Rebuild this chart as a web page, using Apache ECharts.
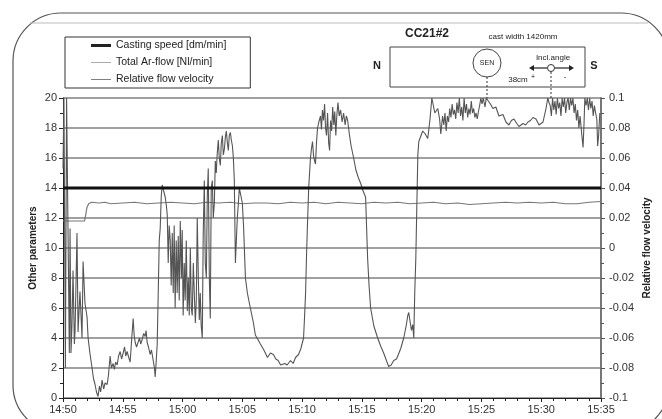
<!DOCTYPE html>
<html>
<head>
<meta charset="utf-8">
<script src="https://cdn.jsdelivr.net/npm/echarts@6/dist/echarts.min.js"></script>
<style>
  html, body { margin: 0; padding: 0; background: #fff; }
  #chart { width: 662px; height: 419px; }
</style>
</head>
<body>
<div id="chart"></div>
<script>
// minutes after 14:50
var timeLabels = ['14:50', '14:55', '15:00', '15:05', '15:10', '15:15', '15:20', '15:25', '15:30', '15:35'];

var castingSpeed = [[0, 14], [45, 14]];

var arFlow = [
    [0, 11.8], [1.8, 11.8], [1.9, 12.2], [2.0, 12.7], [2.15, 12.95], [2.4, 13.05], [3, 13.0], [3.5, 13.05],
    [4, 12.95], [5, 13.0], [6, 13.05], [7, 12.95], [8, 13.0], [9, 13.05], [10, 13.0], [11, 12.95],
    [12, 13.05], [13, 13.0], [14, 13.05], [15, 12.95], [16, 13.0], [17, 13.0], [18, 12.95], [19, 13.05],
    [20, 13.0], [21, 13.05], [22, 12.95], [23, 13.05], [24, 13.0], [25, 12.95], [26, 13.05], [27, 13.0],
    [28, 13.05], [29, 12.95], [30, 13.0], [31, 13.05], [32, 12.95], [33, 13.0], [34, 12.9], [35, 12.95],
    [36, 13.0], [37, 13.05], [38, 13.0], [39, 13.05], [40, 13.0], [41, 13.05], [42, 12.95], [43, 12.95],
    [44, 13.05], [45, 13.1]
];

var relFlow = [
    [0.0, 0.053], [0.08, 0.1], [0.15, 0.1], [0.2, -0.08], [0.3, 0.1], [0.45, 0.1], [0.53, -0.07], [0.59, 0.013],
    [0.67, -0.07], [0.75, -0.051], [0.84, -0.015], [0.95, -0.064], [1.01, -0.055], [1.17, 0.01], [1.26, -0.056],
    [1.42, -0.029], [1.59, -0.06], [1.68, -0.009], [1.84, -0.037], [2.01, -0.046], [2.10, -0.06], [2.25, -0.07],
    [2.43, -0.08], [2.55, -0.087], [2.68, -0.091], [2.80, -0.096], [2.93, -0.099], [3.05, -0.092], [3.15, -0.096],
    [3.27, -0.088], [3.40, -0.094], [3.52, -0.09], [3.69, -0.091], [3.80, -0.085], [3.94, -0.072], [4.05, -0.08],
    [4.19, -0.077], [4.30, -0.081], [4.40, -0.076], [4.53, -0.078], [4.65, -0.072], [4.78, -0.069], [4.90, -0.074],
    [5.03, -0.07], [5.15, -0.066], [5.25, -0.072], [5.36, -0.069], [5.50, -0.073], [5.62, -0.076], [5.75, -0.06],
    [5.87, -0.047], [5.95, -0.058], [6.04, -0.063], [6.15, -0.066], [6.29, -0.067], [6.40, -0.06], [6.50, -0.064],
    [6.62, -0.061], [6.75, -0.057], [6.87, -0.059], [6.95, -0.055], [7.04, -0.063], [7.15, -0.066], [7.29, -0.071],
    [7.40, -0.068], [7.54, -0.069], [7.65, -0.08], [7.71, -0.086], [7.80, -0.075], [7.88, -0.064], [7.96, -0.032],
    [8.05, 0.005], [8.13, 0.013], [8.22, 0.035], [8.30, 0.042], [8.42, 0.038], [8.55, 0.034], [8.65, 0.028],
    [8.72, 0.022], [8.80, -0.01], [8.88, 0.015], [8.97, 0.005], [9.05, -0.025], [9.14, 0.01], [9.22, -0.03],
    [9.30, 0.015], [9.38, -0.04], [9.47, 0.005], [9.55, -0.03], [9.64, 0.008], [9.72, -0.035], [9.81, 0.018],
    [9.90, -0.02], [9.97, 0.012], [10.05, -0.045], [10.14, -0.01], [10.22, -0.035], [10.31, 0.005], [10.40, -0.042],
    [10.48, -0.02], [10.56, -0.045], [10.65, 0.0], [10.73, -0.04], [10.81, -0.045], [10.90, -0.01], [10.98, -0.03],
    [11.07, -0.05], [11.15, -0.035], [11.23, 0.02], [11.32, -0.02], [11.40, -0.048], [11.48, -0.03], [11.56, -0.052],
    [11.65, -0.06], [11.73, 0.01], [11.82, 0.045], [11.90, -0.01], [11.99, -0.02], [12.07, 0.035], [12.15, 0.053],
    [12.24, -0.02], [12.32, -0.047], [12.40, 0.04], [12.49, 0.045], [12.57, 0.02], [12.66, 0.03], [12.74, 0.058],
    [12.82, 0.05], [12.90, 0.063], [12.99, 0.072], [13.07, 0.06], [13.16, 0.055], [13.24, 0.07], [13.33, 0.075],
    [13.41, 0.062], [13.50, 0.066], [13.58, 0.074], [13.66, 0.078], [13.75, 0.07], [13.83, 0.065], [13.91, 0.075],
    [14.00, 0.077], [14.08, 0.072], [14.17, 0.068], [14.25, 0.06], [14.33, 0.045], [14.42, -0.01], [14.50, -0.01],
    [14.58, 0.02], [14.67, 0.03], [14.75, 0.04], [14.84, 0.04], [15.0, 0.03], [15.1, 0.015], [15.26, -0.02],
    [15.42, -0.03], [15.67, -0.04], [15.93, -0.05], [16.09, -0.058], [16.51, -0.064], [16.8, -0.068], [17.10, -0.073],
    [17.35, -0.07], [17.60, -0.071], [17.8, -0.074], [18.0, -0.075], [18.2, -0.078], [18.36, -0.079], [18.55, -0.077],
    [18.75, -0.078], [19.03, -0.075], [19.25, -0.077], [19.45, -0.073], [19.70, -0.071], [19.9, -0.067], [20.12, -0.06],
    [20.21, -0.045], [20.29, -0.03], [20.37, -0.005], [20.45, 0.016], [20.55, 0.04], [20.70, 0.06], [20.78, 0.066],
    [20.87, 0.071], [20.95, 0.062], [21.04, 0.058], [21.12, 0.056], [21.2, 0.07], [21.29, 0.08], [21.4, 0.084],
    [21.54, 0.088], [21.62, 0.079], [21.7, 0.092], [21.79, 0.085], [21.88, 0.096], [21.96, 0.08], [22.04, 0.075],
    [22.13, 0.09], [22.22, 0.07], [22.3, 0.065], [22.38, 0.085], [22.47, 0.078], [22.56, 0.094], [22.65, 0.082],
    [22.73, 0.091], [22.82, 0.075], [22.9, 0.088], [23.0, 0.097], [23.1, 0.088], [23.22, 0.092], [23.35, 0.084],
    [23.47, 0.09], [23.6, 0.082], [23.7, 0.088], [23.81, 0.085], [23.95, 0.076], [24.1, 0.068], [24.31, 0.06],
    [24.5, 0.052], [24.7, 0.047], [24.9, 0.043], [25.1, 0.038], [25.31, 0.034], [25.4, 0.012], [25.48, -0.007],
    [25.6, -0.025], [25.73, -0.04], [26.0, -0.052], [26.32, -0.06], [26.6, -0.066], [26.82, -0.07], [27.05, -0.075],
    [27.24, -0.079], [27.45, -0.078], [27.66, -0.075], [27.9, -0.074], [28.1, -0.07], [28.25, -0.067], [28.5, -0.06],
    [28.7, -0.052], [28.84, -0.045], [28.92, -0.043], [29.05, -0.05], [29.15, -0.055], [29.25, -0.051], [29.34, -0.06],
    [29.42, -0.03], [29.51, -0.007], [29.6, 0.03], [29.68, 0.062], [29.76, 0.071], [29.9, 0.074], [30.09, 0.078],
    [30.3, 0.076], [30.51, 0.073], [30.7, 0.086], [30.85, 0.1], [30.93, 0.099], [31.1, 0.09], [31.35, 0.093],
    [31.5, 0.086], [31.6, 0.076], [31.75, 0.088], [31.85, 0.082], [31.95, 0.09], [32.05, 0.078], [32.15, 0.088],
    [32.25, 0.084], [32.35, 0.093], [32.45, 0.087], [32.55, 0.096], [32.65, 0.089], [32.75, 0.092], [32.85, 0.086],
    [32.95, 0.097], [33.05, 0.09], [33.15, 0.1], [33.25, 0.088], [33.35, 0.094], [33.45, 0.085], [33.55, 0.1],
    [33.65, 0.09], [33.75, 0.096], [33.85, 0.087], [33.95, 0.093], [34.05, 0.089], [34.15, 0.098], [34.25, 0.09],
    [34.35, 0.093], [34.45, 0.087], [34.55, 0.09], [34.65, 0.086], [34.75, 0.091], [34.85, 0.095], [34.95, 0.1],
    [35.05, 0.096], [35.15, 0.1], [35.3, 0.094], [35.4, 0.1], [35.54, 0.1], [35.75, 0.096], [35.96, 0.093],
    [36.21, 0.094], [36.46, 0.088], [36.8, 0.089], [37.05, 0.084], [37.30, 0.082], [37.5, 0.085], [37.72, 0.086],
    [37.95, 0.083], [38.14, 0.081], [38.48, 0.083], [38.7, 0.082], [38.89, 0.084], [39.1, 0.085], [39.31, 0.087],
    [39.56, 0.086], [39.82, 0.082], [40.15, 0.084], [40.40, 0.093], [40.55, 0.1], [40.65, 0.097], [40.75, 0.095],
    [40.85, 0.088], [40.95, 0.1], [41.05, 0.092], [41.15, 0.098], [41.25, 0.089], [41.35, 0.1], [41.45, 0.093],
    [41.55, 0.097], [41.65, 0.088], [41.75, 0.1], [41.85, 0.094], [41.95, 0.1], [42.05, 0.09], [42.15, 0.097],
    [42.25, 0.1], [42.35, 0.092], [42.45, 0.1], [42.55, 0.095], [42.65, 0.1], [42.75, 0.09], [42.85, 0.096],
    [42.95, 0.085], [43.05, 0.092], [43.15, 0.08], [43.25, 0.088], [43.4, 0.075], [43.5, 0.067], [43.58, 0.083],
    [43.65, 0.1], [43.75, 0.095], [43.85, 0.1], [43.95, 0.092], [44.05, 0.1], [44.15, 0.093], [44.25, 0.098],
    [44.35, 0.088], [44.45, 0.095], [44.55, 0.09], [44.65, 0.086], [44.72, 0.068], [44.8, 0.075], [44.9, 0.09]
];

var FONT = '"Liberation Sans", Arial, sans-serif';

// legend line samples: tiny corner dots keep the box 10px high so the bar keeps its thickness
var thickIcon = 'path://M0,0h0.01v0.01h-0.01z M0,3.5h20v3h-20z M0,9.99h0.01v0.01h-0.01z';
var thinIcon = 'path://M0,0h0.01v0.01h-0.01z M0,4.4h20v1.2h-20z M0,9.99h0.01v0.01h-0.01z';

var flowChart = function () {
    var myChart = echarts.init(document.getElementById('chart'));

    // small schematic of the mould (top right) and the rounded frame
    var txt = function (x, y, text, size, bold, align) {
        return {
            type: 'text', x: x, y: y, z: 10,
            style: {
                text: text, fill: '#222', font: (bold ? 'bold ' : '') + size + 'px ' + FONT,
                align: align || 'center', verticalAlign: 'middle'
            }
        };
    };
    var arrowHead = function (x, y, dir) {
        return {
            type: 'polygon', z: 10,
            shape: { points: [[x, y], [x - dir * 5, y - 3], [x - dir * 5, y + 3]] },
            style: { fill: '#222' }
        };
    };
    var graphics = [
        { type: 'rect', shape: { x: 13, y: 13, width: 656, height: 420, r: 48 }, style: { fill: 'none', stroke: '#555', lineWidth: 1.2 } },
        { type: 'line', shape: { x1: 30, y1: 23, x2: 648, y2: 23 }, style: { stroke: '#bbb', lineWidth: 1 } },
        txt(427, 34, 'CC21#2', 12, true),
        txt(523, 37, 'cast width 1420mm', 8, false),
        { type: 'rect', z: 10, shape: { x: 390, y: 47, width: 195, height: 40 }, style: { fill: '#fff', stroke: '#444', lineWidth: 1 } },
        txt(377, 66, 'N', 11, true),
        txt(594, 66, 'S', 11, true),
        { type: 'circle', z: 10, shape: { cx: 487, cy: 63, r: 14 }, style: { fill: 'none', stroke: '#444', lineWidth: 1 } },
        txt(487, 63, 'SEN', 7, false),
        { type: 'line', z: 10, shape: { x1: 487, y1: 77, x2: 487, y2: 98 }, style: { stroke: '#333', lineWidth: 1, lineDash: [2, 2] } },
        txt(518, 80, '38cm', 8, false),
        txt(553, 58, 'Incl.angle', 8, false),
        { type: 'circle', z: 10, shape: { cx: 551, cy: 68, r: 3.5 }, style: { fill: '#fff', stroke: '#333', lineWidth: 1 } },
        { type: 'line', z: 10, shape: { x1: 547, y1: 68, x2: 533, y2: 68 }, style: { stroke: '#222', lineWidth: 1.2 } },
        arrowHead(529, 68, -1),
        { type: 'line', z: 10, shape: { x1: 555, y1: 68, x2: 570, y2: 68 }, style: { stroke: '#222', lineWidth: 1.2 } },
        arrowHead(574, 68, 1),
        txt(533, 77, '+', 7, false),
        txt(565, 77, '-', 8, false),
        { type: 'line', z: 10, shape: { x1: 551, y1: 72, x2: 551, y2: 98 }, style: { stroke: '#333', lineWidth: 1, lineDash: [2, 2] } }
    ];

    var option = {
        animation: false,
        backgroundColor: '#fff',
        textStyle: { fontFamily: FONT },
        graphic: graphics,
        legend: {
            orient: 'vertical',
            left: 65,
            top: 37,
            padding: [3, 24, 3, 26],
            itemGap: 6,
            itemWidth: 20,
            itemHeight: 10,
            borderColor: '#333',
            borderWidth: 1,
            textStyle: { fontSize: 10.5, color: '#222', fontFamily: FONT },
            data: [
                { name: 'Casting speed [dm/min]', icon: thickIcon },
                { name: 'Total Ar-flow [Nl/min]', icon: thinIcon },
                { name: 'Relative flow velocity', icon: thinIcon }
            ]
        },
        grid: { left: 63, right: 61, top: 98, bottom: 21, containLabel: false },
        xAxis: {
            type: 'value',
            min: 0,
            max: 45,
            interval: 5,
            axisLine: { lineStyle: { color: '#222', width: 1 } },
            axisTick: { show: true, length: 4, lineStyle: { color: '#222' } },
            minorTick: { show: true, splitNumber: 5, length: 3, lineStyle: { color: '#222' } },
            splitLine: { show: false },
            axisLabel: {
                margin: 6, fontSize: 11, color: '#333', fontFamily: FONT,
                formatter: function (v) { return timeLabels[Math.round(v / 5)]; }
            }
        },
        yAxis: [
            {
                type: 'value',
                min: 0,
                max: 20,
                interval: 2,
                name: 'Other parameters',
                nameLocation: 'middle',
                nameRotate: 90,
                nameGap: 25,
                nameMoveOverlap: false,
                nameTextStyle: { fontSize: 10, fontWeight: 'bold', color: '#222', fontFamily: FONT },
                axisLine: { show: true, lineStyle: { color: '#222', width: 1 } },
                axisTick: { show: true, length: 4, lineStyle: { color: '#222' } },
                minorTick: { show: true, splitNumber: 2, length: 3, lineStyle: { color: '#222' } },
                splitLine: { show: true, lineStyle: { color: '#808080', width: 1.5 } },
                axisLabel: { margin: 6, fontSize: 11, color: '#333', fontFamily: FONT }
            },
            {
                type: 'value',
                min: -0.1,
                max: 0.1,
                interval: 0.02,
                position: 'right',
                name: 'Relative flow velocity',
                nameLocation: 'middle',
                nameRotate: 90,
                nameGap: 41,
                nameMoveOverlap: false,
                nameTextStyle: { fontSize: 10, fontWeight: 'bold', color: '#222', fontFamily: FONT },
                axisLine: { show: true, lineStyle: { color: '#777', width: 2 } },
                axisTick: { show: true, length: 4, lineStyle: { color: '#555' } },
                minorTick: { show: true, splitNumber: 2, length: 3, lineStyle: { color: '#555' } },
                splitLine: { show: false },
                axisLabel: {
                    margin: 8, fontSize: 11, color: '#333', fontFamily: FONT,
                    formatter: function (v) { return String(Math.round(v * 100) / 100); }
                }
            }
        ],
        series: [
            {
                name: 'Total Ar-flow [Nl/min]',
                type: 'line',
                yAxisIndex: 0,
                symbol: 'none',
                lineStyle: { color: '#777', width: 1.2 },
                itemStyle: { color: '#aaa' },
                data: arFlow
            },
            {
                name: 'Relative flow velocity',
                type: 'line',
                yAxisIndex: 1,
                symbol: 'none',
                lineStyle: { color: '#555', width: 1.1 },
                itemStyle: { color: '#808080' },
                data: relFlow
            },
            {
                name: 'Casting speed [dm/min]',
                type: 'line',
                yAxisIndex: 0,
                symbol: 'none',
                lineStyle: { color: '#111', width: 3 },
                itemStyle: { color: '#222' },
                data: castingSpeed
            }
        ]
    };

    myChart.setOption(option);
};

flowChart();
</script>
</body>
</html>
